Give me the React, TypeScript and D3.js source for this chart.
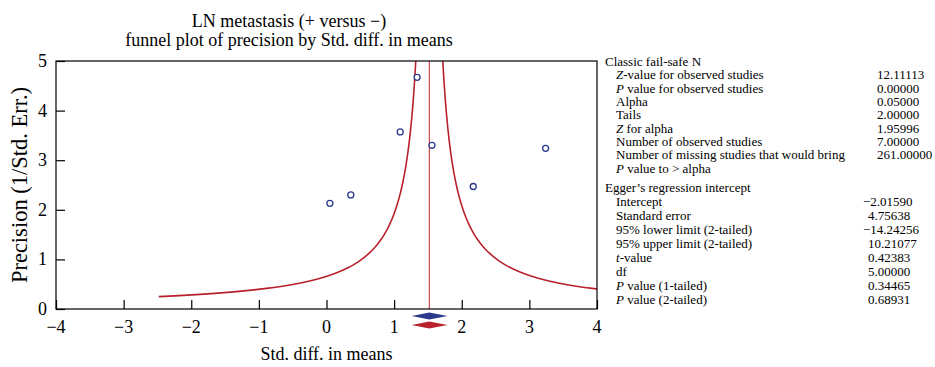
import React, {useEffect, useRef} from 'react';
import * as d3 from 'd3';

// studies
const studyEffect = [1.34, 1.09, 1.56, 3.24, 2.17, 0.36, 0.05];
const studyPrecision = [4.67, 3.57, 3.30, 3.24, 2.47, 2.30, 2.13];

// combined estimate (observed + imputed, identical here)
const pooledEffect = 1.52;
const pooledLower = 1.26;
const pooledUpper = 1.79;
const funnelPrecisionMin = 0.25;

const xTicks = [-4, -3, -2, -1, 0, 1, 2, 3, 4];
const yTicks = [0, 1, 2, 3, 4, 5];

const titleLines = ['LN metastasis (+ versus \u2212)', 'funnel plot of precision by Std. diff. in means'];

// [italic part, plain part]
const failSafeLabels = [
  ['Z', '-value for observed studies'],
  ['P', ' value for observed studies'],
  ['', 'Alpha'],
  ['', 'Tails'],
  ['Z', ' for alpha'],
  ['', 'Number of observed studies'],
  ['', 'Number of missing studies that would bring'],
  ['P', ' value to > alpha'],
];
const failSafeValues = ['12.11113', '0.00000', '0.05000', '2.00000', '1.95996', '7.00000', '261.00000', ''];

const eggerLabels = [
  ['', 'Intercept'],
  ['', 'Standard error'],
  ['', '95% lower limit (2-tailed)'],
  ['', '95% upper limit (2-tailed)'],
  ['t', '-value'],
  ['', 'df'],
  ['P', ' value (1-tailed)'],
  ['P', ' value (2-tailed)'],
];
const eggerValues = ['\u22122.01590', '4.75638', '\u221214.24256', '10.21077', '0.42383', '5.00000', '0.34465', '0.68931'];

export default function App() {
  const svgRef = useRef(null);

  useEffect(() => {
    const svg = d3.select(svgRef.current);
    svg.selectAll('*').remove();

    const font = '"Liberation Serif", "Times New Roman", serif';
    const left = 56, right = 597, top = 61, bottom = 309;
    const red = '#b8202b', blue = '#2b3a8c';

    const x = d3.scaleLinear().domain([-4, 4]).range([left, right]);
    const y = d3.scaleLinear().domain([0, 5]).range([bottom, top]);

    svg.attr('font-family', font);

    // title
    svg.append('g').selectAll('text')
      .data(titleLines)
      .join('text')
      .attr('x', 289)
      .attr('y', (d, i) => 27 + i * 19)
      .attr('text-anchor', 'middle')
      .attr('font-size', 18)
      .text(d => d);

    svg.append('clipPath').attr('id', 'plotclip')
      .append('rect')
      .attr('x', left).attr('y', top)
      .attr('width', right - left).attr('height', bottom - top);

    // funnel
    const precisions = d3.range(funnelPrecisionMin, 5.0001, 0.01);
    const line = d3.line().x(d => x(d[0])).y(d => y(d[1]));
    const plot = svg.append('g').attr('clip-path', 'url(#plotclip)');
    [-1, 1].forEach(s => {
      plot.append('path')
        .datum(precisions.map(p => [pooledEffect + s / p, p]))
        .attr('d', line)
        .attr('fill', 'none')
        .attr('stroke', red)
        .attr('stroke-width', 1.6);
    });
    plot.append('line')
      .attr('x1', x(pooledEffect)).attr('x2', x(pooledEffect))
      .attr('y1', y(0)).attr('y2', y(5))
      .attr('stroke', red)
      .attr('stroke-width', 1);

    // studies
    plot.selectAll('circle')
      .data(studyEffect)
      .join('circle')
      .attr('cx', d => x(d))
      .attr('cy', (d, i) => y(studyPrecision[i]))
      .attr('r', 3)
      .attr('fill', 'white')
      .attr('stroke', blue)
      .attr('stroke-width', 1.3);

    // frame
    svg.append('rect')
      .attr('x', left).attr('y', top)
      .attr('width', right - left).attr('height', bottom - top)
      .attr('fill', 'none').attr('stroke', 'black').attr('stroke-width', 1.2);

    const fmt = d => String(d).replace('-', '\u2212');

    const xAxis = svg.append('g')
      .attr('transform', `translate(0,${bottom})`)
      .call(d3.axisTop(x).tickValues(xTicks).tickSize(9).tickFormat(''));
    xAxis.select('.domain').remove();
    xAxis.selectAll('line').attr('stroke-width', 1.2);

    svg.append('g').selectAll('text')
      .data(xTicks)
      .join('text')
      .attr('x', d => x(d))
      .attr('y', 333)
      .attr('text-anchor', 'middle')
      .attr('font-size', 18)
      .text(fmt);

    const yAxis = svg.append('g')
      .attr('transform', `translate(${left},0)`)
      .call(d3.axisRight(y).tickValues(yTicks).tickSize(9).tickFormat(''));
    yAxis.select('.domain').remove();
    yAxis.selectAll('line').attr('stroke-width', 1.2);

    svg.append('g').selectAll('text')
      .data(yTicks)
      .join('text')
      .attr('x', 47)
      .attr('y', d => y(d) + 6)
      .attr('text-anchor', 'end')
      .attr('font-size', 18)
      .text(fmt);

    svg.append('text')
      .attr('x', (left + right) / 2)
      .attr('y', 360)
      .attr('text-anchor', 'middle')
      .attr('font-size', 18)
      .text('Std. diff. in means');

    svg.append('text')
      .attr('transform', `translate(27,${(top + bottom) / 2}) rotate(-90)`)
      .attr('text-anchor', 'middle')
      .attr('font-size', 22.5)
      .text('Precision (1/Std. Err.)');

    // combined diamonds
    const diamond = (cy, color) => {
      const pts = [
        [x(pooledLower), cy], [x(pooledEffect), cy - 3.5],
        [x(pooledUpper), cy], [x(pooledEffect), cy + 3.5],
      ];
      svg.append('path')
        .attr('d', 'M' + pts.join('L') + 'Z')
        .attr('fill', color);
    };
    diamond(bottom + 7, blue);
    diamond(bottom + 16, red);

    // side panel
    const panel = svg.append('g').attr('font-size', 13);
    const block = (header, labels, values, y0, step, valX) => {
      panel.append('text').attr('x', 605).attr('y', y0).text(header);
      labels.forEach((l, i) => {
        const t = panel.append('text').attr('x', 616).attr('y', y0 + step * (i + 1));
        if (l[0]) t.append('tspan').attr('font-style', 'italic').text(l[0]);
        t.append('tspan').text(l[1]);
        const v = values[i];
        panel.append('text')
          .attr('x', v.startsWith('\u2212') ? valX - 5 : valX)
          .attr('y', y0 + step * (i + 1))
          .text(v);
      });
    };
    block('Classic fail-safe N', failSafeLabels, failSafeValues, 66, 13.35, 877);
    block('Egger\u2019s regression intercept', eggerLabels, eggerValues, 192, 14.05, 868);
  }, []);

  return (
    <svg ref={svgRef} width={935} height={367}
      style={{position: 'absolute', left: 0, top: 0, background: 'white'}}></svg>
  );
}
